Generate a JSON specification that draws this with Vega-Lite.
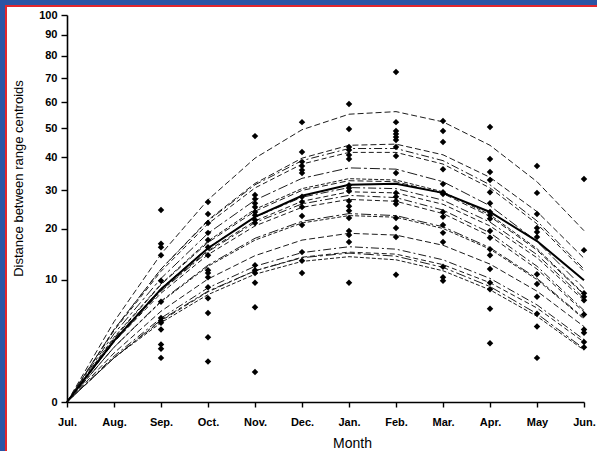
{
  "$schema": "https://vega.github.io/schema/vega-lite/v6.json",
  "autosize": {"type": "none"},
  "width": 593,
  "height": 447,
  "padding": {"left": 6, "top": 6, "right": -2, "bottom": -2},
  "background": "#2B55A5",
  "config": {
    "view": {"fill": "white", "stroke": "#E3262C", "strokeWidth": 2},
    "font": "Liberation Sans",
    "axis": {
      "grid": false,
      "domainColor": "black",
      "domainWidth": 1.6,
      "tickColor": "black",
      "tickWidth": 1.4,
      "labelColor": "black",
      "titleColor": "black",
      "labelFont": "Liberation Sans",
      "titleFont": "Liberation Sans",
      "labelFontWeight": "bold",
      "labelFontSize": 11,
      "titleFontWeight": "normal"
    }
  },
  "datasets": {
    "curves": [
      {"curve": "1", "month": "Jul.", "distance": 0}, {"curve": "1", "month": "Aug.", "distance": 4.3}, {"curve": "1", "month": "Sep.", "distance": 14.6}, {"curve": "1", "month": "Oct.", "distance": 27.3}, {"curve": "1", "month": "Nov.", "distance": 39.7}, {"curve": "1", "month": "Dec.", "distance": 49.5}, {"curve": "1", "month": "Jan.", "distance": 55.3}, {"curve": "1", "month": "Feb.", "distance": 56.3}, {"curve": "1", "month": "Mar.", "distance": 52.4}, {"curve": "1", "month": "Apr.", "distance": 44.0}, {"curve": "1", "month": "May", "distance": 32.4}, {"curve": "1", "month": "Jun.", "distance": 19.6},
      {"curve": "2", "month": "Jul.", "distance": 0}, {"curve": "2", "month": "Aug.", "distance": 3.5}, {"curve": "2", "month": "Sep.", "distance": 11.8}, {"curve": "2", "month": "Oct.", "distance": 22.1}, {"curve": "2", "month": "Nov.", "distance": 31.9}, {"curve": "2", "month": "Dec.", "distance": 39.7}, {"curve": "2", "month": "Jan.", "distance": 44.0}, {"curve": "2", "month": "Feb.", "distance": 44.4}, {"curve": "2", "month": "Mar.", "distance": 40.8}, {"curve": "2", "month": "Apr.", "distance": 33.7}, {"curve": "2", "month": "May", "distance": 24.2}, {"curve": "2", "month": "Jun.", "distance": 13.8},
      {"curve": "3", "month": "Jul.", "distance": 0}, {"curve": "3", "month": "Aug.", "distance": 3.5}, {"curve": "3", "month": "Sep.", "distance": 11.8}, {"curve": "3", "month": "Oct.", "distance": 21.9}, {"curve": "3", "month": "Nov.", "distance": 31.5}, {"curve": "3", "month": "Dec.", "distance": 38.9}, {"curve": "3", "month": "Jan.", "distance": 42.9}, {"curve": "3", "month": "Feb.", "distance": 42.9}, {"curve": "3", "month": "Mar.", "distance": 38.9}, {"curve": "3", "month": "Apr.", "distance": 31.5}, {"curve": "3", "month": "May", "distance": 21.9}, {"curve": "3", "month": "Jun.", "distance": 11.8},
      {"curve": "4", "month": "Jul.", "distance": 0}, {"curve": "4", "month": "Aug.", "distance": 3.4}, {"curve": "4", "month": "Sep.", "distance": 11.4}, {"curve": "4", "month": "Oct.", "distance": 21.2}, {"curve": "4", "month": "Nov.", "distance": 30.6}, {"curve": "4", "month": "Dec.", "distance": 37.8}, {"curve": "4", "month": "Jan.", "distance": 41.6}, {"curve": "4", "month": "Feb.", "distance": 41.6}, {"curve": "4", "month": "Mar.", "distance": 37.8}, {"curve": "4", "month": "Apr.", "distance": 30.6}, {"curve": "4", "month": "May", "distance": 21.2}, {"curve": "4", "month": "Jun.", "distance": 11.4},
      {"curve": "5", "month": "Jul.", "distance": 0}, {"curve": "5", "month": "Aug.", "distance": 3.1}, {"curve": "5", "month": "Sep.", "distance": 10.2}, {"curve": "5", "month": "Oct.", "distance": 19.0}, {"curve": "5", "month": "Nov.", "distance": 27.2}, {"curve": "5", "month": "Dec.", "distance": 33.4}, {"curve": "5", "month": "Jan.", "distance": 36.6}, {"curve": "5", "month": "Feb.", "distance": 36.2}, {"curve": "5", "month": "Mar.", "distance": 32.4}, {"curve": "5", "month": "Apr.", "distance": 25.7}, {"curve": "5", "month": "May", "distance": 17.2}, {"curve": "5", "month": "Jun.", "distance": 8.6},
      {"curve": "6", "month": "Jul.", "distance": 0}, {"curve": "6", "month": "Aug.", "distance": 2.8}, {"curve": "6", "month": "Sep.", "distance": 9.3}, {"curve": "6", "month": "Oct.", "distance": 17.3}, {"curve": "6", "month": "Nov.", "distance": 24.8}, {"curve": "6", "month": "Dec.", "distance": 30.4}, {"curve": "6", "month": "Jan.", "distance": 33.3}, {"curve": "6", "month": "Feb.", "distance": 32.9}, {"curve": "6", "month": "Mar.", "distance": 29.5}, {"curve": "6", "month": "Apr.", "distance": 23.4}, {"curve": "6", "month": "May", "distance": 15.7}, {"curve": "6", "month": "Jun.", "distance": 7.8},
      {"curve": "7", "month": "Jul.", "distance": 0}, {"curve": "7", "month": "Aug.", "distance": 2.7}, {"curve": "7", "month": "Sep.", "distance": 9.2}, {"curve": "7", "month": "Oct.", "distance": 17.0}, {"curve": "7", "month": "Nov.", "distance": 24.3}, {"curve": "7", "month": "Dec.", "distance": 29.9}, {"curve": "7", "month": "Jan.", "distance": 32.7}, {"curve": "7", "month": "Feb.", "distance": 32.4}, {"curve": "7", "month": "Mar.", "distance": 29.0}, {"curve": "7", "month": "Apr.", "distance": 23.0}, {"curve": "7", "month": "May", "distance": 15.4}, {"curve": "7", "month": "Jun.", "distance": 7.7},
      {"curve": "8", "month": "Jul.", "distance": 0}, {"curve": "8", "month": "Aug.", "distance": 2.6}, {"curve": "8", "month": "Sep.", "distance": 8.6}, {"curve": "8", "month": "Oct.", "distance": 15.9}, {"curve": "8", "month": "Nov.", "distance": 22.8}, {"curve": "8", "month": "Dec.", "distance": 28.0}, {"curve": "8", "month": "Jan.", "distance": 30.7}, {"curve": "8", "month": "Feb.", "distance": 30.4}, {"curve": "8", "month": "Mar.", "distance": 27.2}, {"curve": "8", "month": "Apr.", "distance": 21.6}, {"curve": "8", "month": "May", "distance": 14.5}, {"curve": "8", "month": "Jun.", "distance": 7.2},
      {"curve": "9", "month": "Jul.", "distance": 0}, {"curve": "9", "month": "Aug.", "distance": 2.5}, {"curve": "9", "month": "Sep.", "distance": 8.3}, {"curve": "9", "month": "Oct.", "distance": 15.3}, {"curve": "9", "month": "Nov.", "distance": 21.9}, {"curve": "9", "month": "Dec.", "distance": 26.9}, {"curve": "9", "month": "Jan.", "distance": 29.5}, {"curve": "9", "month": "Feb.", "distance": 29.2}, {"curve": "9", "month": "Mar.", "distance": 26.1}, {"curve": "9", "month": "Apr.", "distance": 20.7}, {"curve": "9", "month": "May", "distance": 13.9}, {"curve": "9", "month": "Jun.", "distance": 6.9},
      {"curve": "10", "month": "Jul.", "distance": 0}, {"curve": "10", "month": "Aug.", "distance": 2.4}, {"curve": "10", "month": "Sep.", "distance": 8.2}, {"curve": "10", "month": "Oct.", "distance": 15.1}, {"curve": "10", "month": "Nov.", "distance": 21.5}, {"curve": "10", "month": "Dec.", "distance": 26.2}, {"curve": "10", "month": "Jan.", "distance": 28.5}, {"curve": "10", "month": "Feb.", "distance": 27.9}, {"curve": "10", "month": "Mar.", "distance": 24.6}, {"curve": "10", "month": "Apr.", "distance": 19.1}, {"curve": "10", "month": "May", "distance": 12.3}, {"curve": "10", "month": "Jun.", "distance": 5.6},
      {"curve": "11", "month": "Jul.", "distance": 0}, {"curve": "11", "month": "Aug.", "distance": 2.4}, {"curve": "11", "month": "Sep.", "distance": 7.9}, {"curve": "11", "month": "Oct.", "distance": 14.5}, {"curve": "11", "month": "Nov.", "distance": 20.7}, {"curve": "11", "month": "Dec.", "distance": 25.3}, {"curve": "11", "month": "Jan.", "distance": 27.4}, {"curve": "11", "month": "Feb.", "distance": 26.9}, {"curve": "11", "month": "Mar.", "distance": 23.7}, {"curve": "11", "month": "Apr.", "distance": 18.4}, {"curve": "11", "month": "May", "distance": 11.8}, {"curve": "11", "month": "Jun.", "distance": 5.4},
      {"curve": "12", "month": "Jul.", "distance": 0}, {"curve": "12", "month": "Aug.", "distance": 2.0}, {"curve": "12", "month": "Sep.", "distance": 6.8}, {"curve": "12", "month": "Oct.", "distance": 12.5}, {"curve": "12", "month": "Nov.", "distance": 17.9}, {"curve": "12", "month": "Dec.", "distance": 21.8}, {"curve": "12", "month": "Jan.", "distance": 23.7}, {"curve": "12", "month": "Feb.", "distance": 23.2}, {"curve": "12", "month": "Mar.", "distance": 20.5}, {"curve": "12", "month": "Apr.", "distance": 15.9}, {"curve": "12", "month": "May", "distance": 10.2}, {"curve": "12", "month": "Jun.", "distance": 4.7},
      {"curve": "13", "month": "Jul.", "distance": 0}, {"curve": "13", "month": "Aug.", "distance": 2.0}, {"curve": "13", "month": "Sep.", "distance": 6.7}, {"curve": "13", "month": "Oct.", "distance": 12.3}, {"curve": "13", "month": "Nov.", "distance": 17.5}, {"curve": "13", "month": "Dec.", "distance": 21.4}, {"curve": "13", "month": "Jan.", "distance": 23.2}, {"curve": "13", "month": "Feb.", "distance": 22.8}, {"curve": "13", "month": "Mar.", "distance": 20.1}, {"curve": "13", "month": "Apr.", "distance": 15.6}, {"curve": "13", "month": "May", "distance": 10.0}, {"curve": "13", "month": "Jun.", "distance": 4.6},
      {"curve": "14", "month": "Jul.", "distance": 0}, {"curve": "14", "month": "Aug.", "distance": 1.6}, {"curve": "14", "month": "Sep.", "distance": 5.5}, {"curve": "14", "month": "Oct.", "distance": 10.1}, {"curve": "14", "month": "Nov.", "distance": 14.3}, {"curve": "14", "month": "Dec.", "distance": 17.5}, {"curve": "14", "month": "Jan.", "distance": 19.0}, {"curve": "14", "month": "Feb.", "distance": 18.6}, {"curve": "14", "month": "Mar.", "distance": 16.4}, {"curve": "14", "month": "Apr.", "distance": 12.7}, {"curve": "14", "month": "May", "distance": 8.2}, {"curve": "14", "month": "Jun.", "distance": 3.8},
      {"curve": "15", "month": "Jul.", "distance": 0}, {"curve": "15", "month": "Aug.", "distance": 1.4}, {"curve": "15", "month": "Sep.", "distance": 4.7}, {"curve": "15", "month": "Oct.", "distance": 8.7}, {"curve": "15", "month": "Nov.", "distance": 12.3}, {"curve": "15", "month": "Dec.", "distance": 14.9}, {"curve": "15", "month": "Jan.", "distance": 16.1}, {"curve": "15", "month": "Feb.", "distance": 15.6}, {"curve": "15", "month": "Mar.", "distance": 13.5}, {"curve": "15", "month": "Apr.", "distance": 10.2}, {"curve": "15", "month": "May", "distance": 6.3}, {"curve": "15", "month": "Jun.", "distance": 2.6},
      {"curve": "16", "month": "Jul.", "distance": 0}, {"curve": "16", "month": "Aug.", "distance": 1.3}, {"curve": "16", "month": "Sep.", "distance": 4.4}, {"curve": "16", "month": "Oct.", "distance": 8.1}, {"curve": "16", "month": "Nov.", "distance": 11.5}, {"curve": "16", "month": "Dec.", "distance": 14.0}, {"curve": "16", "month": "Jan.", "distance": 15.0}, {"curve": "16", "month": "Feb.", "distance": 14.6}, {"curve": "16", "month": "Mar.", "distance": 12.6}, {"curve": "16", "month": "Apr.", "distance": 9.5}, {"curve": "16", "month": "May", "distance": 5.9}, {"curve": "16", "month": "Jun.", "distance": 2.4},
      {"curve": "17", "month": "Jul.", "distance": 0}, {"curve": "17", "month": "Aug.", "distance": 1.3}, {"curve": "17", "month": "Sep.", "distance": 4.5}, {"curve": "17", "month": "Oct.", "distance": 8.2}, {"curve": "17", "month": "Nov.", "distance": 11.5}, {"curve": "17", "month": "Dec.", "distance": 13.9}, {"curve": "17", "month": "Jan.", "distance": 14.8}, {"curve": "17", "month": "Feb.", "distance": 14.2}, {"curve": "17", "month": "Mar.", "distance": 12.1}, {"curve": "17", "month": "Apr.", "distance": 8.9}, {"curve": "17", "month": "May", "distance": 5.2}, {"curve": "17", "month": "Jun.", "distance": 1.9},
      {"curve": "18", "month": "Jul.", "distance": 0}, {"curve": "18", "month": "Aug.", "distance": 1.3}, {"curve": "18", "month": "Sep.", "distance": 4.2}, {"curve": "18", "month": "Oct.", "distance": 7.7}, {"curve": "18", "month": "Nov.", "distance": 10.9}, {"curve": "18", "month": "Dec.", "distance": 13.2}, {"curve": "18", "month": "Jan.", "distance": 14.1}, {"curve": "18", "month": "Feb.", "distance": 13.5}, {"curve": "18", "month": "Mar.", "distance": 11.5}, {"curve": "18", "month": "Apr.", "distance": 8.4}, {"curve": "18", "month": "May", "distance": 4.9}, {"curve": "18", "month": "Jun.", "distance": 1.8},
      {"curve": "mean", "month": "Jul.", "distance": 0}, {"curve": "mean", "month": "Aug.", "distance": 2.5}, {"curve": "mean", "month": "Sep.", "distance": 8.5}, {"curve": "mean", "month": "Oct.", "distance": 15.8}, {"curve": "mean", "month": "Nov.", "distance": 22.9}, {"curve": "mean", "month": "Dec.", "distance": 28.4}, {"curve": "mean", "month": "Jan.", "distance": 31.5}, {"curve": "mean", "month": "Feb.", "distance": 31.8}, {"curve": "mean", "month": "Mar.", "distance": 29.2}, {"curve": "mean", "month": "Apr.", "distance": 24.1}, {"curve": "mean", "month": "May", "distance": 17.3}, {"curve": "mean", "month": "Jun.", "distance": 9.9}
    ],
    "observed": [
      {"month": "Sep.", "distance": 24.6}, {"month": "Sep.", "distance": 16.7}, {"month": "Sep.", "distance": 16.0}, {"month": "Sep.", "distance": 14.4}, {"month": "Sep.", "distance": 9.8}, {"month": "Sep.", "distance": 6.7}, {"month": "Sep.", "distance": 4.7}, {"month": "Sep.", "distance": 4.4}, {"month": "Sep.", "distance": 4.2}, {"month": "Sep.", "distance": 3.5}, {"month": "Sep.", "distance": 2.2}, {"month": "Sep.", "distance": 1.9}, {"month": "Sep.", "distance": 1.3},
      {"month": "Oct.", "distance": 26.7}, {"month": "Oct.", "distance": 23.6}, {"month": "Oct.", "distance": 21.4}, {"month": "Oct.", "distance": 19.1}, {"month": "Oct.", "distance": 17.5}, {"month": "Oct.", "distance": 16.0}, {"month": "Oct.", "distance": 14.4}, {"month": "Oct.", "distance": 11.6}, {"month": "Oct.", "distance": 11.1}, {"month": "Oct.", "distance": 10.4}, {"month": "Oct.", "distance": 8.8}, {"month": "Oct.", "distance": 7.2}, {"month": "Oct.", "distance": 5.3}, {"month": "Oct.", "distance": 2.8}, {"month": "Oct.", "distance": 1.1},
      {"month": "Nov.", "distance": 47.2}, {"month": "Nov.", "distance": 28.6}, {"month": "Nov.", "distance": 27.5}, {"month": "Nov.", "distance": 26.4}, {"month": "Nov.", "distance": 25.4}, {"month": "Nov.", "distance": 24.1}, {"month": "Nov.", "distance": 23.3}, {"month": "Nov.", "distance": 22.1}, {"month": "Nov.", "distance": 21.4}, {"month": "Nov.", "distance": 12.5}, {"month": "Nov.", "distance": 11.6}, {"month": "Nov.", "distance": 11.1}, {"month": "Nov.", "distance": 9.5}, {"month": "Nov.", "distance": 6.0}, {"month": "Nov.", "distance": 0.6},
      {"month": "Dec.", "distance": 52.3}, {"month": "Dec.", "distance": 41.7}, {"month": "Dec.", "distance": 38.5}, {"month": "Dec.", "distance": 37.2}, {"month": "Dec.", "distance": 35.9}, {"month": "Dec.", "distance": 35.0}, {"month": "Dec.", "distance": 28.1}, {"month": "Dec.", "distance": 26.7}, {"month": "Dec.", "distance": 25.4}, {"month": "Dec.", "distance": 23.1}, {"month": "Dec.", "distance": 20.9}, {"month": "Dec.", "distance": 15.0}, {"month": "Dec.", "distance": 13.3}, {"month": "Dec.", "distance": 11.1},
      {"month": "Jan.", "distance": 59.3}, {"month": "Jan.", "distance": 49.8}, {"month": "Jan.", "distance": 43.4}, {"month": "Jan.", "distance": 42.4}, {"month": "Jan.", "distance": 40.7}, {"month": "Jan.", "distance": 39.4}, {"month": "Jan.", "distance": 31.4}, {"month": "Jan.", "distance": 30.6}, {"month": "Jan.", "distance": 29.7}, {"month": "Jan.", "distance": 27.0}, {"month": "Jan.", "distance": 25.6}, {"month": "Jan.", "distance": 24.4}, {"month": "Jan.", "distance": 22.6}, {"month": "Jan.", "distance": 19.5}, {"month": "Jan.", "distance": 18.6}, {"month": "Jan.", "distance": 17.1}, {"month": "Jan.", "distance": 9.5},
      {"month": "Feb.", "distance": 72.7}, {"month": "Feb.", "distance": 52.3}, {"month": "Feb.", "distance": 49.0}, {"month": "Feb.", "distance": 48.0}, {"month": "Feb.", "distance": 46.9}, {"month": "Feb.", "distance": 45.8}, {"month": "Feb.", "distance": 43.4}, {"month": "Feb.", "distance": 40.4}, {"month": "Feb.", "distance": 35.0}, {"month": "Feb.", "distance": 29.2}, {"month": "Feb.", "distance": 28.1}, {"month": "Feb.", "distance": 27.0}, {"month": "Feb.", "distance": 26.2}, {"month": "Feb.", "distance": 22.6}, {"month": "Feb.", "distance": 20.2}, {"month": "Feb.", "distance": 18.2}, {"month": "Feb.", "distance": 10.8},
      {"month": "Mar.", "distance": 52.7}, {"month": "Mar.", "distance": 49.0}, {"month": "Mar.", "distance": 45.1}, {"month": "Mar.", "distance": 36.2}, {"month": "Mar.", "distance": 31.7}, {"month": "Mar.", "distance": 29.4}, {"month": "Mar.", "distance": 28.9}, {"month": "Mar.", "distance": 24.1}, {"month": "Mar.", "distance": 22.9}, {"month": "Mar.", "distance": 20.9}, {"month": "Mar.", "distance": 19.1}, {"month": "Mar.", "distance": 17.1}, {"month": "Mar.", "distance": 12.2}, {"month": "Mar.", "distance": 10.4}, {"month": "Mar.", "distance": 9.8},
      {"month": "Apr.", "distance": 50.5}, {"month": "Apr.", "distance": 39.4}, {"month": "Apr.", "distance": 35.3}, {"month": "Apr.", "distance": 32.9}, {"month": "Apr.", "distance": 29.4}, {"month": "Apr.", "distance": 26.4}, {"month": "Apr.", "distance": 24.1}, {"month": "Apr.", "distance": 23.3}, {"month": "Apr.", "distance": 22.4}, {"month": "Apr.", "distance": 19.5}, {"month": "Apr.", "distance": 18.0}, {"month": "Apr.", "distance": 15.6}, {"month": "Apr.", "distance": 14.4}, {"month": "Apr.", "distance": 11.8}, {"month": "Apr.", "distance": 9.5}, {"month": "Apr.", "distance": 8.5}, {"month": "Apr.", "distance": 5.8}, {"month": "Apr.", "distance": 2.3},
      {"month": "May", "distance": 37.2}, {"month": "May", "distance": 29.2}, {"month": "May", "distance": 23.6}, {"month": "May", "distance": 20.2}, {"month": "May", "distance": 19.3}, {"month": "May", "distance": 18.2}, {"month": "May", "distance": 10.9}, {"month": "May", "distance": 9.3}, {"month": "May", "distance": 7.4}, {"month": "May", "distance": 5.2}, {"month": "May", "distance": 3.8}, {"month": "May", "distance": 1.3},
      {"month": "Jun.", "distance": 33.2}, {"month": "Jun.", "distance": 15.4}, {"month": "Jun.", "distance": 7.9}, {"month": "Jun.", "distance": 7.4}, {"month": "Jun.", "distance": 6.9}, {"month": "Jun.", "distance": 5.1}, {"month": "Jun.", "distance": 3.5}, {"month": "Jun.", "distance": 3.2}, {"month": "Jun.", "distance": 2.4}, {"month": "Jun.", "distance": 2.0}
    ]
  },
  "encoding": {
    "x": {
      "field": "month",
      "type": "ordinal",
      "sort": ["Jul.", "Aug.", "Sep.", "Oct.", "Nov.", "Dec.", "Jan.", "Feb.", "Mar.", "Apr.", "May", "Jun."],
      "scale": {
        "type": "point",
        "domain": ["Jul.", "Aug.", "Sep.", "Oct.", "Nov.", "Dec.", "Jan.", "Feb.", "Mar.", "Apr.", "May", "Jun."],
        "range": [61, 578],
        "padding": 0
      },
      "axis": {
        "title": "Month",
        "offset": -51,
        "labelAngle": 0,
        "tickSize": 5,
        "labelPadding": 9,
        "titleFontSize": 14,
        "titleX": 346,
        "titleY": 45,
        "titleBaseline": "alphabetic",
        "titleAnchor": "middle",
        "titleAlign": "center"
      }
    },
    "y": {
      "field": "distance",
      "type": "quantitative",
      "scale": {"type": "sqrt", "domain": [0, 100], "range": [396, 9], "nice": false},
      "axis": {
        "title": "Distance between range centroids",
        "values": [0, 10, 20, 30, 40, 50, 60, 70, 80, 90, 100],
        "offset": -61,
        "tickSize": 6,
        "labelPadding": 4,
        "titleFontSize": 13,
        "titleX": -42,
        "titleY": 172,
        "titleAnchor": "middle",
        "titleAlign": "center",
        "titleBaseline": "bottom"
      }
    }
  },
  "layer": [
    {
      "data": {"name": "curves"},
      "transform": [{"filter": "datum.curve !== 'mean'"}],
      "mark": {"type": "line", "strokeWidth": 1, "color": "#1c1c1c"},
      "encoding": {
        "detail": {"field": "curve", "type": "nominal"},
        "strokeDash": {
          "field": "curve",
          "type": "nominal",
          "legend": null,
          "scale": {"range": [[6, 3], [8, 3, 2, 3], [5, 3], [10, 3, 3, 3], [4, 2]]}
        }
      }
    },
    {
      "data": {"name": "curves"},
      "transform": [{"filter": "datum.curve === 'mean'"}],
      "mark": {"type": "line", "strokeWidth": 2, "color": "black"}
    },
    {
      "data": {"name": "observed"},
      "mark": {"type": "point", "shape": "diamond", "filled": true, "size": 42, "color": "black", "opacity": 1}
    }
  ]
}
